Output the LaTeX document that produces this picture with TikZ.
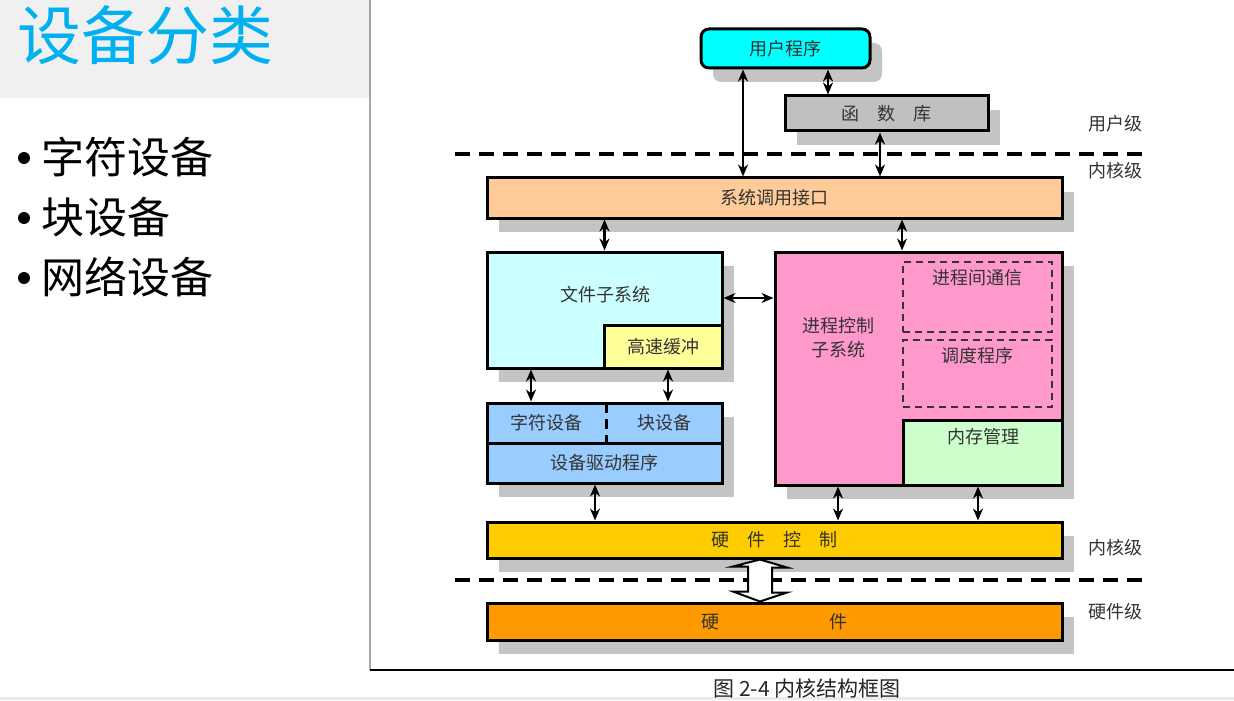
\documentclass[tikz,border=0pt]{standalone}
\usepackage{fontspec}
\setmainfont{Noto Sans CJK SC}
\usetikzlibrary{shadows,arrows.meta,calc}
\definecolor{headgray}{HTML}{F0F0F0}
\definecolor{titleblue}{HTML}{00B0F0}
\definecolor{shadowgray}{HTML}{C4C4C4}
\definecolor{ccyan}{HTML}{00FFFF}
\definecolor{libgray}{HTML}{C0C0C0}
\definecolor{peach}{HTML}{FFCC99}
\definecolor{lcyan}{HTML}{CCFFFF}
\definecolor{lyellow}{HTML}{FFFF99}
\definecolor{pinkbox}{HTML}{FF99CC}
\definecolor{lgreen}{HTML}{CCFFCC}
\definecolor{lblue}{HTML}{99CCFF}
\definecolor{goldbox}{HTML}{FFCC00}
\definecolor{orangebox}{HTML}{FF9900}
\definecolor{txtcol}{HTML}{333333}
\tikzset{
  dfont/.style={font=\fontsize{9pt}{12pt}\selectfont, text=txtcol},
  box/.style={draw=black, line width=1.5pt, inner sep=0pt, dfont},
  shad/.style={general shadow={shadow xshift=6pt, shadow yshift=-7pt, fill=shadowgray}},
  dbl/.style={{Stealth[length=6pt,width=5pt]}-{Stealth[length=6pt,width=5pt]}, line width=1.3pt},
  txt/.style={inner sep=0pt, dfont, align=center},
  lvl/.style={inner sep=0pt, dfont},
  divider/.style={line width=2pt, dash pattern=on 7.5pt off 4.5pt},
  subbox/.style={draw=txtcol, dash pattern=on 3.5pt off 2.5pt, line width=1pt, inner sep=0pt},
  devdash/.style={line width=1.2pt, dash pattern=on 5pt off 3pt},
  hollow/.style={draw=black, fill=white, line width=1pt, line join=miter},
  bulletdot/.style={circle, fill=black, inner sep=0pt, minimum size=6pt},
  bullettext/.style={anchor=west, inner sep=0pt, font=\fontsize{21.5pt}{26pt}\selectfont, text=black},
}
\begin{document}
\begin{tikzpicture}[x=0.5pt,y=-0.5pt]
\useasboundingbox (0,0) rectangle (1234,700);
\fill[white] (0,0) rectangle (1234,700);
% left panel
\fill[headgray] (0,0) rectangle (370,98);
\node[anchor=west, inner sep=0pt, text=titleblue, font=\fontsize{32pt}{38pt}\selectfont] (title) at (17,35) {设备分类};
\node[bulletdot] (b1) at (24,158) {};
\node[bullettext] (t1) at (41,157) {字符设备};
\node[bulletdot] (b2) at (24,218) {};
\node[bullettext] (t2) at (41,217) {块设备};
\node[bulletdot] (b3) at (24,278) {};
\node[bullettext] (t3) at (41,277) {网络设备};
\draw[gray!70, line width=0.6pt] (370,0) -- (370,670);
\draw[black, line width=1.2pt] (370,670) -- (1234,670);
\fill[gray!15] (0,697) rectangle (1234,700);
\node[inner sep=0pt, font=\fontsize{10.5pt}{12pt}\selectfont, text=black!85] (cap) at (807,688) {图 2-4 内核结构框图};
% dividers
\draw[divider] (455,154) -- (1150,154);
\draw[divider] (455,580) -- (1150,580);
% level labels
\node[lvl] (l1) at (1115,124) {用户级};
\node[lvl] (l2) at (1115,171) {内核级};
\node[lvl] (l3) at (1115,548) {内核级};
\node[lvl] (l4) at (1115,612) {硬件级};
% boxes
\node[box, shad, fill=ccyan, rounded corners=4pt, minimum width=84.5pt, minimum height=19.5pt] (up) at (785.5,48.5) {用户程序};
\node[box, shad, fill=libgray, minimum width=101.5pt, minimum height=17.5pt] (lib) at (886.5,113.5) {函\hspace{1em}数\hspace{1em}库};
\node[box, shad, fill=peach, minimum width=287.5pt, minimum height=20pt] (sci) at (774.5,198) {系统调用接口};
\node[box, shad, fill=lcyan, minimum width=117.5pt, minimum height=58pt] (fs) at (604.5,310) {};
\node[txt] (fsT) at (605,295) {文件子系统};
\node[box, fill=lyellow, minimum width=59pt, minimum height=21.5pt] (cache) at (663,346.5) {高速缓冲};
\node[box, shad, fill=pinkbox, minimum width=143.5pt, minimum height=116.5pt] (pc) at (918.5,368.5) {};
\node[txt] (pcT) at (838,338) {进程控制\\子系统};
\node[subbox, minimum width=74.5pt, minimum height=35pt] (ipc) at (977.5,297) {};
\node[txt] (ipcT) at (977,278) {进程间通信};
\node[subbox, minimum width=74.5pt, minimum height=33.5pt] (sch) at (977.5,373.5) {};
\node[txt] (schT) at (977,356) {调度程序};
\node[box, fill=lgreen, minimum width=79.5pt, minimum height=32.5pt] (mem) at (982.5,452.5) {};
\node[txt] (memT) at (983,437) {内存管理};
\node[box, shad, fill=lblue, minimum width=117.5pt, minimum height=40pt] (dev) at (604.5,443) {};
\node[box, fill=lblue, minimum width=117.5pt, minimum height=20pt] (drv) at (604.5,463) {设备驱动程序};
\node[txt, minimum width=59.5pt, minimum height=20pt] (chr) at (546.5,423) {字符设备};
\node[txt, minimum width=58pt, minimum height=20pt] (blk) at (664,423) {块设备};
\draw[devdash] (chr.north east) -- (chr.south east);
\node[box, shad, fill=goldbox, minimum width=287.5pt, minimum height=18pt] (hwc) at (774.5,540) {硬\hspace{1em}件\hspace{1em}控\hspace{1em}制};
\node[box, shad, fill=orangebox, minimum width=287.5pt, minimum height=18.5pt] (hw) at (774.5,621.5) {硬\hspace{55pt}件};
% connectors
\draw[dbl] ([xshift=-21.25pt]up.south) -- ([xshift=-21.25pt]up.south |- sci.north);
\draw[dbl] ([xshift=21.25pt]up.south) -- ([xshift=21.25pt]up.south |- lib.north);
\draw[dbl] ([xshift=-3.25pt]lib.south) -- ([xshift=-3.25pt]lib.south |- sci.north);
\draw[dbl] (fs.north |- sci.south) -- (fs.north);
\draw[dbl] (ipc.north west |- sci.south) -- (ipc.north west |- pc.north);
\draw[dbl] ([yshift=6pt]fs.east) -- ([yshift=6pt]fs.east -| pc.west);
\draw[dbl] ([xshift=-36.75pt]fs.south) -- ([xshift=-36.75pt]fs.south |- dev.north);
\draw[dbl] ([xshift=2.5pt]cache.south) -- ([xshift=2.5pt]cache.south |- dev.north);
\draw[dbl] ([xshift=-4.75pt]drv.south) -- ([xshift=-4.75pt]drv.south |- hwc.north);
\draw[dbl] ([xshift=-40.25pt]pc.south) -- ([xshift=-40.25pt]pc.south |- hwc.north);
\draw[dbl] ([xshift=-2.25pt]mem.south) -- ([xshift=-2.25pt]mem.south |- hwc.north);
% hollow double arrow
\coordinate (a1) at ([xshift=-7.25pt]hwc.south);
\coordinate (a2) at (a1 |- hw.north);
\draw[hollow] (a1) -- ++(27,8) -- ++(-15,0) -- ++(0,25) -- ++(15,0) -- (a2) -- ++(-27,-10) -- ++(15,0) -- ++(0,-25) -- ++(-15,0) -- cycle;
\end{tikzpicture}
\end{document}
